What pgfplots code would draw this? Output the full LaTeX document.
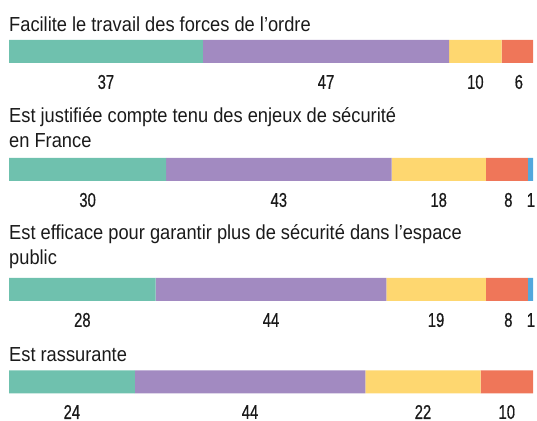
\documentclass[border=0pt]{standalone}
\usepackage{pgfplots}
\pgfplotsset{compat=1.18}
\usepackage{fontspec}
\setmainfont{Liberation Sans}
\newfontface\numfont{Liberation Sans}[FakeStretch=0.74,FakeBold=0.5]
\newfontface\ttlfont{Liberation Sans}[FakeStretch=0.9]
\definecolor{cA}{HTML}{6FC1AE}
\definecolor{cB}{HTML}{A28AC1}
\definecolor{cC}{HTML}{FED770}
\definecolor{cD}{HTML}{EF7659}
\definecolor{cE}{HTML}{52A8DD}
\definecolor{txt}{HTML}{1A1A1A}
\tikzset{ttl/.style={anchor=base west, inner sep=0pt, text=txt, font=\ttlfont\fontsize{20.3bp}{22bp}\selectfont}}
\pgfplotsset{
  base/.style={
    at={(0,0)}, anchor=south west,
    scale only axis, width=537bp, height=421bp,
    xmin=-1.7176, xmax=100.763, ymin=-421, ymax=0,
    hide axis, clip=false,
  }
}
\begin{document}
\begin{tikzpicture}
\begin{axis}[base, xbar stacked, bar width=23bp]
\addplot[fill=cA, draw=none] coordinates {(37,-51.5) (30,-169.5) (28,-289.5) (24,-382)};
\addplot[fill=cB, draw=none] coordinates {(47,-51.5) (43,-169.5) (44,-289.5) (44,-382)};
\addplot[fill=cC, draw=none] coordinates {(10,-51.5) (18,-169.5) (19,-289.5) (22,-382)};
\addplot[fill=cD, draw=none] coordinates {(6,-51.5) (8,-169.5) (8,-289.5) (10,-382)};
\addplot[fill=cE, draw=none] coordinates {(0,-51.5) (1,-169.5) (1,-289.5) (0,-382)};
\end{axis}
\begin{axis}[base,
  nodes near coords={\numfont\fontsize{20bp}{20bp}\selectfont\pgfplotspointmeta},
  point meta=explicit symbolic,
  every node near coord/.append style={anchor=center, inner sep=0pt, text=txt}]
\addplot[draw=none, mark=none] table[meta=l] {
x y l
18.5 -82 37
60.5 -82 47
89 -82 10
97.3 -82 6
15 -200 30
51.5 -200 43
82 -200 18
95.3 -200 8
99.6 -200 1
14 -320 28
50 -320 44
81.5 -320 19
95.3 -320 8
99.6 -320 1
12 -412 24
46 -412 44
79 -412 22
95 -412 10
};
\node[ttl] at (axis cs:0,-32) {Facilite le travail des forces de l’ordre};
\node[ttl] at (axis cs:0,-123) {Est justifiée compte tenu des enjeux de sécurité};
\node[ttl] at (axis cs:0,-148) {en France};
\node[ttl] at (axis cs:0,-240) {Est efficace pour garantir plus de sécurité dans l’espace};
\node[ttl] at (axis cs:0,-265) {public};
\node[ttl] at (axis cs:0,-362) {Est rassurante};
\end{axis}
\path[use as bounding box] (0,0) rectangle (537bp,421bp);
\end{tikzpicture}
\end{document}
